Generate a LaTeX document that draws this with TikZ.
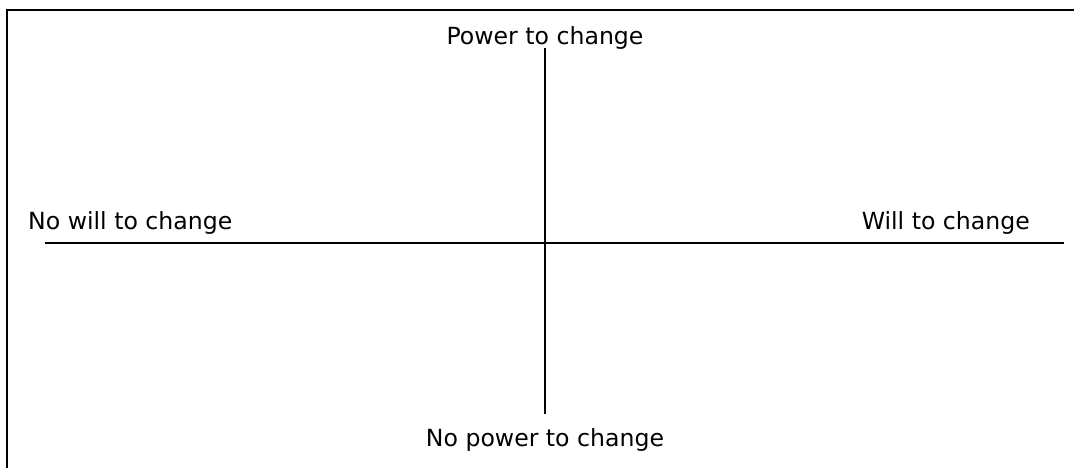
\documentclass[tikz,border=0pt]{standalone}
\usepackage{fontspec}
\setmainfont{DejaVu Sans}
\begin{document}
\begin{tikzpicture}[x=1pt,y=-1pt,
  lbl/.style={inner sep=0pt, font=\fontsize{23.6pt}{28pt}\selectfont},
  axis/.style={line width=2pt, black},
  frame/.style={line width=2.2pt, black}]
\useasboundingbox (0,0) rectangle (1074,467);
% frame (only top and left edges visible)
\coordinate (fbl) at (7,468);
\coordinate (ftl) at (7,10);
\coordinate (ftr) at (1075,10);
\draw[frame] (fbl) -- (ftl) -- (ftr);
% axes
\coordinate (vt) at (544.5,48);
\coordinate (vb) at (544.5,414);
\coordinate (hl) at (45,243);
\coordinate (hr) at (1064,243);
\draw[axis] (vt) -- (vb);
\draw[axis] (hl) -- (hr);
% labels
\node[lbl, anchor=base] (top) at (545,44) {Power to change};
\node[lbl, anchor=base] (bot) at (545,446) {No power to change};
\node[lbl, anchor=base west] (left) at (28,229) {No will to change};
\node[lbl, anchor=base east] (right) at (1030,229) {Will to change};
\end{tikzpicture}
\end{document}
